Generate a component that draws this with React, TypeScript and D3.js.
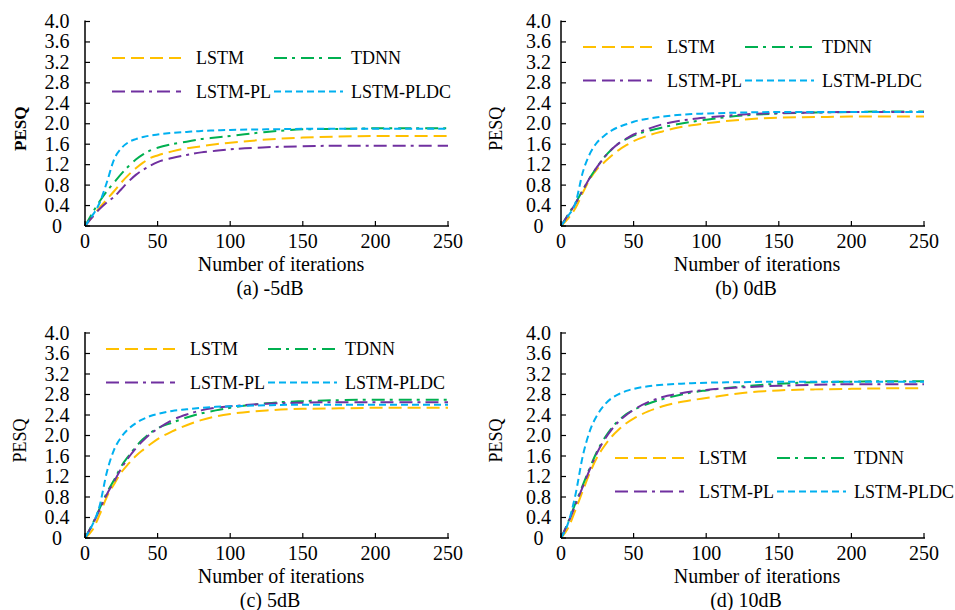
import React, { useEffect, useRef } from 'react';
import * as d3 from 'd3';

const iterations = [0, 5, 10, 15, 20, 25, 30, 35, 40, 45, 50, 60, 70, 80, 90, 100, 125, 150, 175, 200, 225, 250];

const seriesNames = ['LSTM', 'TDNN', 'LSTM-PL', 'LSTM-PLDC'];
const xTicks = [0, 50, 100, 150, 200, 250];
const yTicks = [0, 0.4, 0.8, 1.2, 1.6, 2.0, 2.4, 2.8, 3.2, 3.6, 4.0];
const yTickLabels = ['0', '0.4', '0.8', '1.2', '1.6', '2.0', '2.4', '2.8', '3.2', '3.6', '4.0'];
const captions = ['(a) -5dB', '(b) 0dB', '(c) 5dB', '(d) 10dB'];

// (a) -5dB
const lstmA = [0, 0.18, 0.36, 0.52, 0.68, 0.85, 1.0, 1.13, 1.24, 1.33, 1.38, 1.46, 1.52, 1.56, 1.6, 1.63, 1.69, 1.73, 1.75, 1.76, 1.76, 1.76];
const tdnnA = [0, 0.25, 0.48, 0.68, 0.85, 1.02, 1.17, 1.3, 1.4, 1.48, 1.53, 1.6, 1.65, 1.7, 1.73, 1.76, 1.84, 1.89, 1.9, 1.91, 1.91, 1.91];
const plA = [0, 0.17, 0.33, 0.46, 0.57, 0.72, 0.87, 1.0, 1.1, 1.18, 1.25, 1.33, 1.39, 1.44, 1.47, 1.5, 1.54, 1.56, 1.57, 1.57, 1.57, 1.57];
const pldcA = [0, 0.2, 0.45, 0.85, 1.3, 1.52, 1.64, 1.7, 1.74, 1.77, 1.79, 1.82, 1.84, 1.86, 1.87, 1.88, 1.89, 1.9, 1.9, 1.9, 1.9, 1.9];

// (b) 0dB
const lstmB = [0, 0.15, 0.35, 0.65, 0.92, 1.12, 1.25, 1.38, 1.49, 1.58, 1.66, 1.77, 1.85, 1.92, 1.97, 2.01, 2.08, 2.12, 2.13, 2.14, 2.14, 2.14];
const tdnnB = [0, 0.23, 0.45, 0.7, 0.95, 1.16, 1.35, 1.5, 1.62, 1.7, 1.77, 1.86, 1.93, 1.99, 2.04, 2.08, 2.16, 2.2, 2.22, 2.23, 2.24, 2.24];
const plB = [0, 0.22, 0.44, 0.7, 0.95, 1.16, 1.35, 1.5, 1.62, 1.71, 1.79, 1.9, 1.99, 2.05, 2.09, 2.12, 2.18, 2.21, 2.22, 2.23, 2.23, 2.23];
const pldcB = [0, 0.2, 0.45, 1.05, 1.42, 1.64, 1.77, 1.87, 1.94, 1.99, 2.04, 2.1, 2.14, 2.17, 2.19, 2.2, 2.22, 2.23, 2.23, 2.23, 2.23, 2.23];

// (c) 5dB
const lstmC = [0, 0.15, 0.45, 0.8, 1.05, 1.28, 1.45, 1.6, 1.72, 1.83, 1.93, 2.08, 2.2, 2.3, 2.37, 2.42, 2.49, 2.52, 2.53, 2.54, 2.54, 2.54];
const tdnnC = [0, 0.27, 0.57, 0.88, 1.13, 1.4, 1.6, 1.78, 1.93, 2.05, 2.14, 2.25, 2.35, 2.43, 2.49, 2.54, 2.63, 2.67, 2.69, 2.7, 2.7, 2.7];
const plC = [0, 0.25, 0.55, 0.85, 1.1, 1.36, 1.57, 1.75, 1.9, 2.03, 2.13, 2.3, 2.41, 2.49, 2.54, 2.57, 2.62, 2.64, 2.65, 2.65, 2.65, 2.65];
const pldcC = [0, 0.25, 0.62, 1.28, 1.72, 1.97, 2.13, 2.24, 2.32, 2.38, 2.42, 2.48, 2.51, 2.54, 2.56, 2.57, 2.59, 2.6, 2.6, 2.6, 2.6, 2.6];

// (d) 10dB
const lstmD = [0, 0.2, 0.55, 0.92, 1.28, 1.58, 1.8, 1.98, 2.12, 2.24, 2.33, 2.47, 2.57, 2.64, 2.69, 2.73, 2.83, 2.88, 2.9, 2.91, 2.92, 2.92];
const tdnnD = [0, 0.32, 0.68, 1.03, 1.38, 1.7, 1.95, 2.15, 2.3, 2.42, 2.5, 2.62, 2.71, 2.78, 2.84, 2.88, 2.96, 3.01, 3.04, 3.05, 3.06, 3.06];
const plD = [0, 0.3, 0.65, 1.0, 1.35, 1.67, 1.92, 2.12, 2.28, 2.4, 2.5, 2.65, 2.75, 2.81, 2.86, 2.89, 2.94, 2.97, 2.99, 3.0, 3.0, 3.0];
const pldcD = [0, 0.3, 0.85, 1.6, 2.1, 2.4, 2.6, 2.73, 2.81, 2.87, 2.91, 2.96, 2.99, 3.01, 3.02, 3.03, 3.04, 3.05, 3.05, 3.05, 3.05, 3.05];

const panelSeries = [
  [lstmA, tdnnA, plA, pldcA],
  [lstmB, tdnnB, plB, pldcB],
  [lstmC, tdnnC, plC, pldcC],
  [lstmD, tdnnD, plD, pldcD],
];

const colors = ['#FFC000', '#00B050', '#7030A0', '#00B0F0'];
const dashes = ['13,6', '13,5,3,6', '13,6,13,5,3,5', '7,4'];

// plot frames and legend anchors, in page pixels
const panels = [
  { left: 85, top: 21.5, bottom: 226, tickDx: 28, legX: 112, legY: 58, bold: true },
  { left: 561, top: 21.5, bottom: 226, tickDx: 22.5, legX: 583, legY: 47, bold: false },
  { left: 85, top: 333, bottom: 538, tickDx: 28, legX: 106, legY: 349, bold: false },
  { left: 561, top: 333, bottom: 538, tickDx: 22.5, legX: 615, legY: 458, bold: false },
];
const plotW = 363;
const font = '"Liberation Serif", "Times New Roman", serif';

export default function App() {
  const ref = useRef<SVGSVGElement>(null);

  useEffect(() => {
    document.body.style.margin = '0';
    const svg = d3.select(ref.current);
    svg.selectAll('*').remove();

    panels.forEach((p, pi) => {
      const x = d3.scaleLinear().domain([0, 250]).range([p.left, p.left + plotW]);
      const y = d3.scaleLinear().domain([0, 4]).range([p.bottom, p.top]);
      const g = svg.append('g');

      // lines
      const line = d3.line<number>()
        .x((d, i) => x(iterations[i]))
        .y(d => y(d))
        .curve(d3.curveMonotoneX);
      panelSeries[pi].forEach((vals, si) => {
        g.append('path')
          .attr('d', line(vals))
          .attr('fill', 'none')
          .attr('stroke', colors[si])
          .attr('stroke-width', 2)
          .attr('stroke-dasharray', dashes[si]);
      });

      // axes
      g.append('line')
        .attr('x1', p.left).attr('x2', p.left)
        .attr('y1', p.top - 1).attr('y2', p.bottom)
        .attr('stroke', '#000').attr('stroke-width', 1.5);
      g.append('line')
        .attr('x1', p.left).attr('x2', p.left + plotW + 1)
        .attr('y1', p.bottom).attr('y2', p.bottom)
        .attr('stroke', '#000').attr('stroke-width', 1.5);

      yTicks.forEach((t, i) => {
        g.append('line')
          .attr('x1', p.left).attr('x2', p.left + 5)
          .attr('y1', y(t)).attr('y2', y(t))
          .attr('stroke', '#000').attr('stroke-width', 1.2);
        g.append('text')
          .attr('x', p.left - p.tickDx).attr('y', y(t) + 6.5)
          .attr('text-anchor', 'middle')
          .attr('font-family', font).attr('font-size', 20)
          .text(yTickLabels[i]);
      });
      xTicks.forEach(t => {
        g.append('line')
          .attr('x1', x(t)).attr('x2', x(t))
          .attr('y1', p.bottom).attr('y2', p.bottom - 5)
          .attr('stroke', '#000').attr('stroke-width', 1.2);
        g.append('text')
          .attr('x', x(t)).attr('y', p.bottom + 22)
          .attr('text-anchor', 'middle')
          .attr('font-family', font).attr('font-size', 20)
          .text(t);
      });

      // titles
      const cy = (p.top + p.bottom) / 2 + 5;
      g.append('text')
        .attr('transform', `translate(${p.left - 59},${cy}) rotate(-90)`)
        .attr('text-anchor', 'middle')
        .attr('font-family', font)
        .attr('font-size', p.bold ? 17 : 18)
        .attr('font-weight', p.bold ? 'bold' : 'normal')
        .text('PESQ');
      g.append('text')
        .attr('x', p.left + 196).attr('y', p.bottom + 45)
        .attr('text-anchor', 'middle')
        .attr('font-family', font).attr('font-size', 20)
        .text('Number of iterations');
      g.append('text')
        .attr('x', p.left + 185).attr('y', p.bottom + 69)
        .attr('text-anchor', 'middle')
        .attr('font-family', font).attr('font-size', 20)
        .text(captions[pi]);

      // legend
      seriesNames.forEach((name, si) => {
        const col = si % 2, row = Math.floor(si / 2);
        const lx = p.legX + col * 162;
        const ly = p.legY + row * 33.5;
        g.append('line')
          .attr('x1', lx).attr('x2', lx + 69)
          .attr('y1', ly).attr('y2', ly)
          .attr('stroke', colors[si]).attr('stroke-width', 2)
          .attr('stroke-dasharray', dashes[si]);
        g.append('text')
          .attr('x', lx + (col === 0 ? 84 : 77)).attr('y', ly + 6)
          .attr('font-family', font).attr('font-size', 18)
          .text(name);
      });
    });
  }, []);

  return <svg ref={ref} width={955} height={610} style={{ display: 'block', background: '#fff' }} />;
}
